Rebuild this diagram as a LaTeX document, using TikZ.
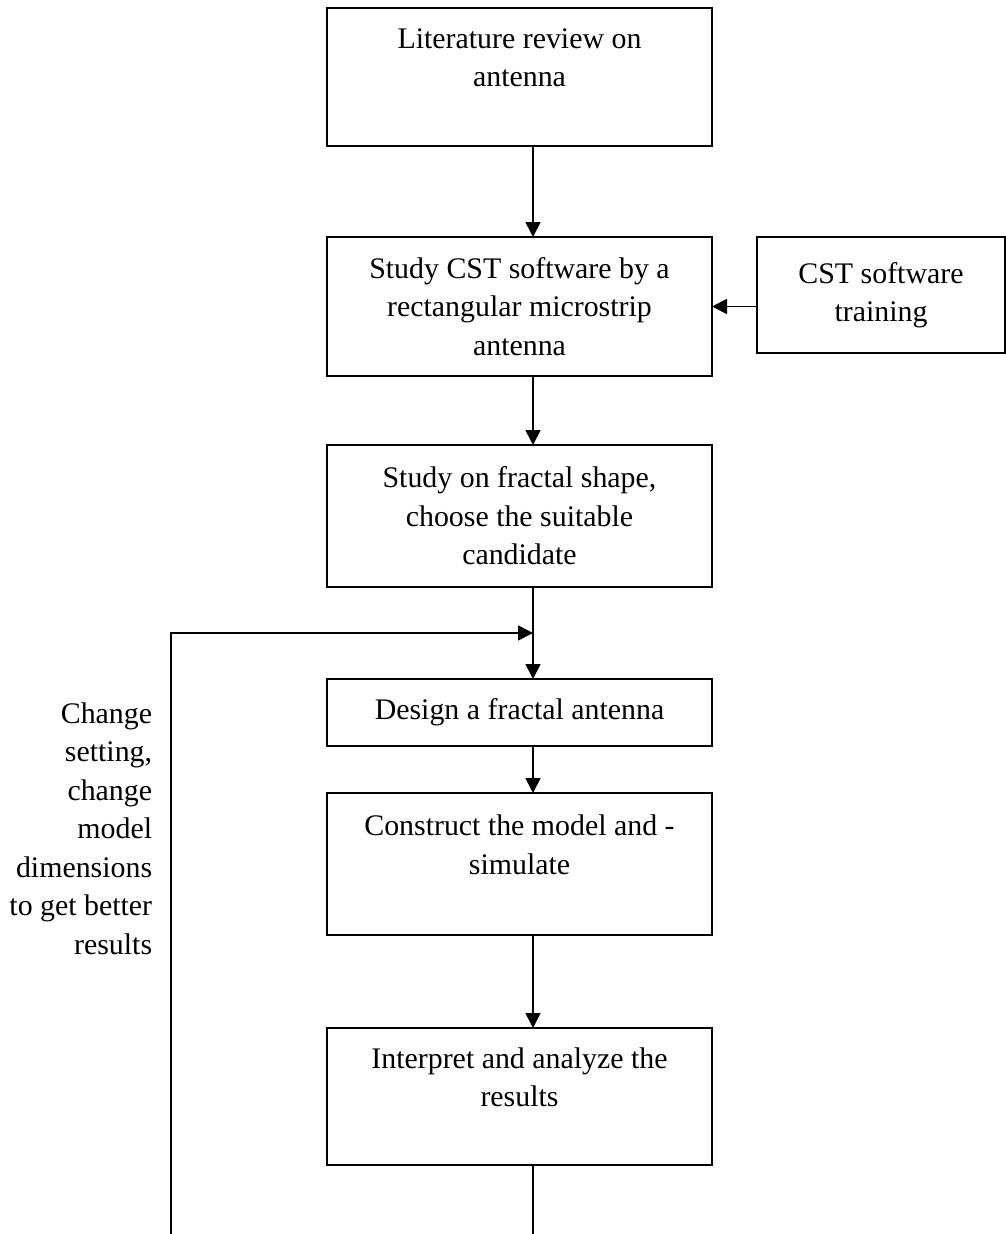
\documentclass[tikz,border=0pt]{standalone}
\usepackage{fontspec}
\setmainfont{Liberation Serif}
\usetikzlibrary{positioning, arrows.meta}
\tikzset{
    >={Triangle[length=0.3cm, width=0.3cm]}, % Filled arrowheads
    node distance=1.8cm, % Standard distance between boxes
    every node/.style={font=\fontsize{17}{21.9}\selectfont},
    box/.style={draw, line width=1pt, align=center, minimum width=7.7cm, inner sep=0pt, outer sep=0pt}, % Process steps
}
\begin{document}
\begin{tikzpicture}[line width=1pt]
    \useasboundingbox (0,0) rectangle (20.12,-24.68);

    \node[box, minimum height=2.76cm] (lit) at (10.39,-1.54) {Literature review on\\antenna\\~};
    \node[box, minimum height=2.78cm] (study) [below=1.82cm of lit] {Study CST software by a\\rectangular microstrip\\antenna};
    \node[box, minimum width=4.96cm, minimum height=2.32cm] (train) [right=0.9cm of study.north east, anchor=north west] {CST software\\training};
    \node[box, minimum height=2.84cm] (fractal) [below=1.38cm of study] {Study on fractal shape,\\choose the suitable\\candidate};
    \node[box, minimum height=1.34cm] (design) [below=1.84cm of fractal] {Design a fractal antenna};
    \node[box, minimum height=2.84cm] (model) [below=0.94cm of design] {Construct the model and -\\simulate\\~};
    \node[box, minimum height=2.74cm] (result) [below=1.86cm of model] {Interpret and analyze the\\results\\~};

    \node[align=right, inner sep=0pt, anchor=east] (why) at (3.06,-16.57) {Change\\setting,\\change\\model\\dimensions\\to get better\\results};

    \coordinate (spine) at (10.66,0);
    \coordinate (join) at (10.66,-12.66);
    \coordinate (endA) at (10.66,-24.68);
    \coordinate (endB) at (3.42,-24.68);

    \draw[->] (lit.south -| spine) -- (study.north -| spine);
    \draw[->] (train.west |- study) -- (study.east);
    \draw[->] (study.south -| spine) -- (fractal.north -| spine);
    \draw[->] (fractal.south -| spine) -- (design.north -| spine);
    \draw[->] (endB) |- (join); % loop back
    \draw[->] (design.south -| spine) -- (model.north -| spine);
    \draw[->] (model.south -| spine) -- (result.north -| spine);
    \draw (result.south -| spine) -- (endA);
\end{tikzpicture}
\end{document}
